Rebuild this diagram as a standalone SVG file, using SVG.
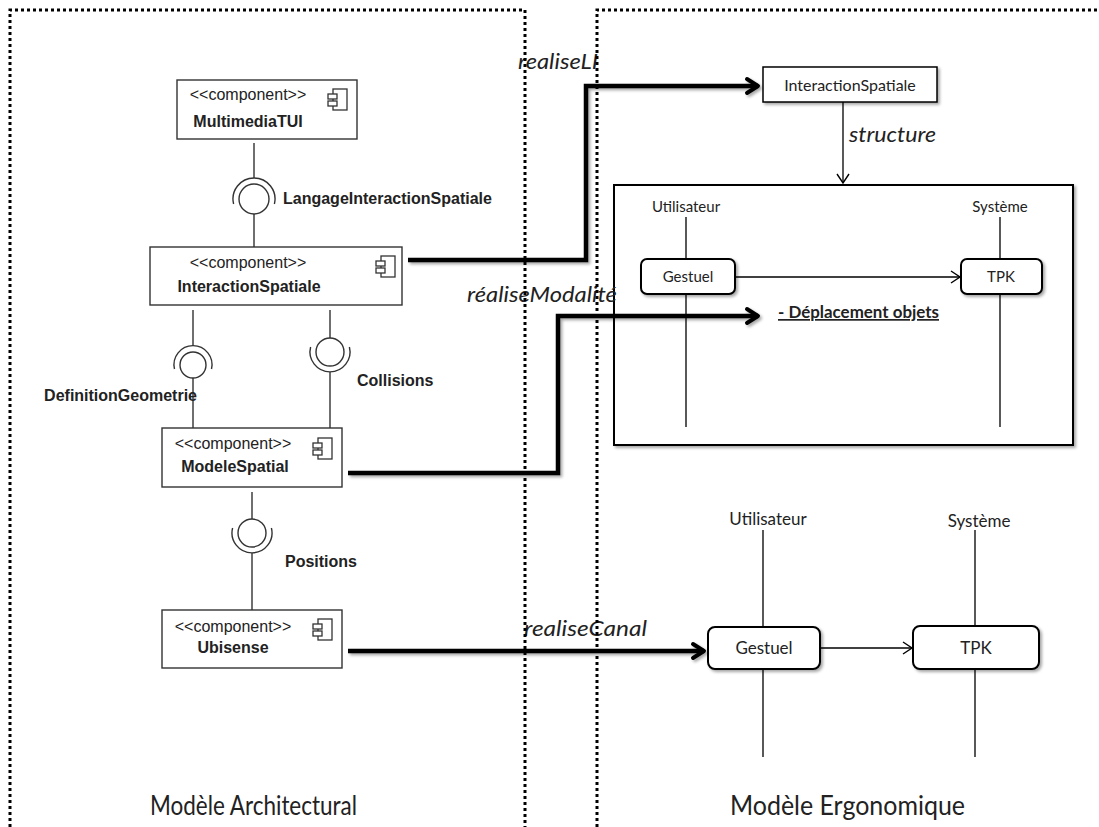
<svg xmlns="http://www.w3.org/2000/svg" width="1099" height="827" viewBox="0 0 1099 827">
<style>
.frame{fill:none;stroke:#000;stroke-width:3;stroke-dasharray:3 3}
.comp{fill:#fff;stroke:#333;stroke-width:1.4}
.st{font-family:"Liberation Sans",Arial,sans-serif;font-size:16px;fill:#222}
.nm{font-family:"Liberation Sans",Arial,sans-serif;font-size:16px;font-weight:bold;fill:#222}
.lbl{font-family:"Liberation Sans",Arial,sans-serif;font-size:16px;font-weight:bold;fill:#222}
.ln{fill:none;stroke:#333;stroke-width:1.4}
.thick{fill:none;stroke:#000;stroke-width:4.5}
.it{font-family:Lato,"Open Sans",sans-serif;font-style:italic;font-size:21px;fill:#222}
.cal{font-family:Lato,"Open Sans",sans-serif;font-size:15px;fill:#222}
.box{fill:#fff;stroke:#000;stroke-width:1.5}
.rbox{fill:#fff;stroke:#000;stroke-width:2}
.thin{fill:none;stroke:#000;stroke-width:1.3}
.title{font-family:Lato,"Open Sans",sans-serif;font-size:26px;fill:#222}
</style>
<defs>
<g id="icon" fill="#fff" stroke="#333" stroke-width="1.3">
<rect x="5" y="0" width="14" height="21"/>
<rect x="0" y="5" width="9" height="5"/>
<rect x="0" y="12" width="9" height="5"/>
</g>
<marker id="thickHead" markerWidth="20" markerHeight="20" refX="14" refY="8" orient="auto" markerUnits="userSpaceOnUse" viewBox="0 0 20 16">
<path d="M3,1 L14,8 L3,15" fill="none" stroke="#000" stroke-width="4" stroke-linecap="round" stroke-linejoin="round"/>
</marker>
<marker id="thinHead" markerWidth="14" markerHeight="14" refX="11" refY="7" orient="auto" markerUnits="userSpaceOnUse">
<path d="M2,1 L11,7 L2,13" fill="none" stroke="#000" stroke-width="1.4"/>
</marker>
<filter id="sh" x="-10%" y="-10%" width="130%" height="140%">
<feDropShadow dx="2" dy="2" stdDeviation="1.5" flood-color="#000" flood-opacity="0.35"/>
</filter>
</defs>

<g id="MultimediaTUI">
<rect class="comp" x="177" y="80" width="180" height="59"/>
<text class="st" x="248" y="100" text-anchor="middle">&lt;&lt;component&gt;&gt;</text>
<text class="nm" x="248" y="127" text-anchor="middle">MultimediaTUI</text>
<use href="#icon" x="328" y="89"/>
</g>

<g id="InteractionSpatiale">
<rect class="comp" x="150" y="247" width="252" height="58"/>
<text class="st" x="248" y="268" text-anchor="middle">&lt;&lt;component&gt;&gt;</text>
<text class="nm" x="249" y="292" text-anchor="middle">InteractionSpatiale</text>
<use href="#icon" x="376" y="256"/>
</g>

<g id="ModeleSpatial">
<rect class="comp" x="162" y="428" width="180" height="59"/>
<text class="st" x="233" y="449" text-anchor="middle">&lt;&lt;component&gt;&gt;</text>
<text class="nm" x="235" y="472" text-anchor="middle">ModeleSpatial</text>
<use href="#icon" x="313" y="438"/>
</g>

<g id="Ubisense">
<rect class="comp" x="162" y="610" width="180" height="58"/>
<text class="st" x="233" y="632" text-anchor="middle">&lt;&lt;component&gt;&gt;</text>
<text class="nm" x="233" y="653" text-anchor="middle">Ubisense</text>
<use href="#icon" x="313" y="619"/>
</g>

<g id="InteractionSpatialeErgo">
<rect class="box" x="763" y="67" width="174" height="35" filter="url(#sh)"/>
<text class="cal" x="850" y="91" text-anchor="middle" style="font-size:16px">InteractionSpatiale</text>
</g>

<g id="structureBox">
<rect class="rbox" x="614" y="185" width="459" height="260" filter="url(#sh)"/>
<text class="cal" x="686" y="212" text-anchor="middle">Utilisateur</text>
<text class="cal" x="1000" y="212" text-anchor="middle">Système</text>
<path class="thin" d="M686,217 V259 M686,294 V427 M1000,217 V259 M1000,294 V427"/>
<g id="Gestuel1">
<rect class="rbox" x="641" y="259" width="94" height="35" rx="6" filter="url(#sh)"/>
<text class="cal" x="688" y="282" text-anchor="middle">Gestuel</text>
</g>
<g id="TPK1">
<rect class="rbox" x="961" y="259" width="81" height="35" rx="6" filter="url(#sh)"/>
<text class="cal" x="1001" y="282" text-anchor="middle">TPK</text>
</g>
<text class="cal" x="778" y="318" textLength="161" lengthAdjust="spacingAndGlyphs" style="font-weight:bold;font-size:17px;text-decoration:underline">- Déplacement objets</text>
</g>

<g id="canal">
<text class="cal" x="768" y="525" text-anchor="middle" style="font-size:17px">Utilisateur</text>
<text class="cal" x="979" y="527" text-anchor="middle" style="font-size:17px">Système</text>
<path class="thin" d="M763,530 V627 M763,669 V757 M975,530 V626 M975,669 V757"/>
<g id="Gestuel2">
<rect class="rbox" x="708" y="627" width="112" height="42" rx="7" filter="url(#sh)"/>
<text class="cal" x="764" y="654" text-anchor="middle" style="font-size:17px">Gestuel</text>
</g>
<g id="TPK2">
<rect class="rbox" x="913" y="626" width="126" height="43" rx="7" filter="url(#sh)"/>
<text class="cal" x="976" y="654" text-anchor="middle" style="font-size:17px">TPK</text>
</g>
</g>

<g id="connectors">
<path class="ln" d="M254,143 V178 M254,214 V247"/>
<circle class="ln" cx="254" cy="199" r="15"/>
<path class="ln" d="M233.6,204 A21,21 0 1,1 274.4,204"/>
<text class="lbl" x="283" y="204">LangageInteractionSpatiale</text>

<path class="ln" d="M193,310 V346 M193,378 V428"/>
<circle class="ln" cx="193" cy="365" r="13"/>
<path class="ln" d="M174.5,369 A19,19 0 1,1 211.5,369"/>
<text class="lbl" x="197" y="401" text-anchor="end">DefinitionGeometrie</text>

<path class="ln" d="M330,310 V338 M330,372 V428"/>
<circle class="ln" cx="330" cy="352" r="14"/>
<path class="ln" d="M310.6,347 A20,20 0 1,0 349.4,347"/>
<text class="lbl" x="357" y="386">Collisions</text>

<path class="ln" d="M252,492 V519 M252,553 V610"/>
<circle class="ln" cx="252" cy="533" r="14"/>
<path class="ln" d="M232.6,528 A20,20 0 1,0 271.4,528"/>
<text class="lbl" x="285" y="567">Positions</text>

<g filter="url(#sh)">
<path class="thick" d="M408,260 H586 V86 H758" marker-end="url(#thickHead)"/>
<path class="thick" d="M348,473 H558 V316 H758" marker-end="url(#thickHead)"/>
<path class="thick" d="M348,651 H704" marker-end="url(#thickHead)"/>
</g>
<text class="it" x="518" y="69" textLength="80" lengthAdjust="spacingAndGlyphs">realiseLI</text>
<text class="it" x="467" y="302" textLength="150" lengthAdjust="spacingAndGlyphs">réaliseModalité</text>
<text class="it" x="524" y="636" textLength="123" lengthAdjust="spacingAndGlyphs">realiseCanal</text>

<path class="thin" d="M843,102 V183" marker-end="url(#thinHead)"/>
<text class="it" x="849" y="142" textLength="87" lengthAdjust="spacingAndGlyphs">structure</text>

<path class="thin" d="M735,277 H960" marker-end="url(#thinHead)"/>
<path class="thin" d="M820,648 H912" marker-end="url(#thinHead)"/>
</g>

<g id="frames">
<path class="frame" d="M10,827 V10 H525 V827"/>
<path class="frame" d="M597,827 V10 H1099"/>
</g>

<text class="title" x="150" y="815" textLength="207" lengthAdjust="spacingAndGlyphs">Modèle Architectural</text>
<text class="title" x="730" y="815" textLength="235" lengthAdjust="spacingAndGlyphs">Modèle Ergonomique</text>
</svg>
